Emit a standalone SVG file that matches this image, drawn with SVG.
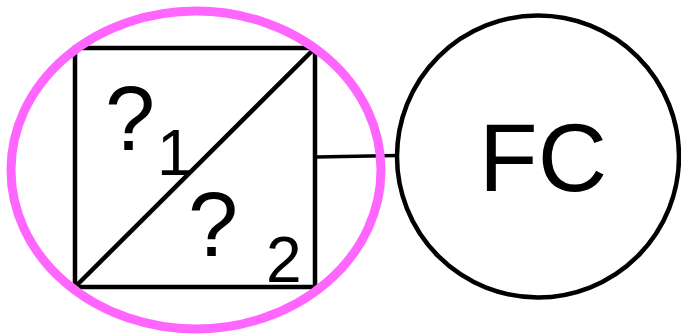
<svg xmlns="http://www.w3.org/2000/svg" width="681" height="335" viewBox="0 0 681 335">
<style>
.s{fill:none;stroke:#000;stroke-width:4.5}
.t{font-family:"Liberation Sans",Arial,sans-serif;fill:#000}
</style>
<rect width="681" height="335" fill="#fff"/>
<g id="connectors">
<line x1="316" y1="157" x2="397" y2="155.5" stroke="#000" stroke-width="3.5"/>
</g>
<g id="node-box">
<rect class="s" x="75" y="48" width="240" height="239"/>
<line class="s" x1="75" y1="287" x2="315" y2="48"/>
<text class="t" x="105" y="150" font-size="90">?</text>
<text class="t" x="157" y="175" font-size="64">1</text>
<text class="t" x="188" y="256" font-size="90">?</text>
<text class="t" x="266" y="282" font-size="64">2</text>
</g>
<g id="node-fc">
<circle class="s" cx="538" cy="156.5" r="141"/>
<text class="t" x="543" y="191" font-size="96" text-anchor="middle">FC</text>
</g>
<g id="highlight">
<ellipse cx="196" cy="170" rx="185" ry="159" fill="none" stroke="#FF66FF" stroke-width="9"/>
</g>
</svg>
